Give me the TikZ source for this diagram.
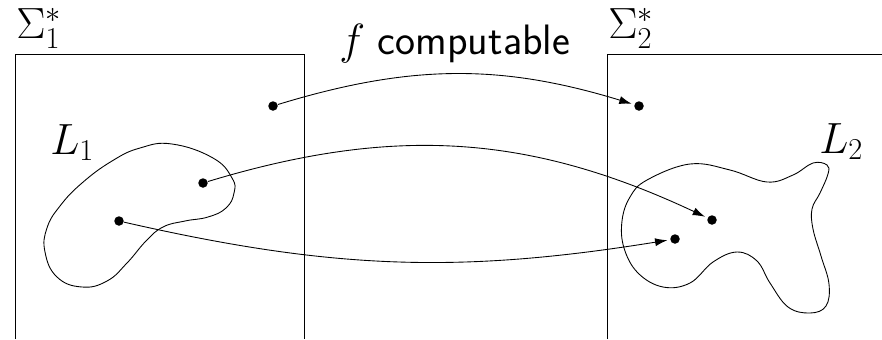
\documentclass[tikz,border=0pt]{standalone}
\usepackage{tikz}
\usetikzlibrary{arrows.meta}
\usepackage{amsmath,amssymb}

\begin{document}
\begin{tikzpicture}[
    x=0.02cm, y=-0.02cm,
    >={Latex[length=7pt,width=4.6pt]},
    font=\fontsize{24.2}{29}\selectfont,
    elem/.style={
        circle, fill=black, inner sep=0pt, minimum size=0.19cm
    },
    label/.style={
        anchor=base west, inner sep=0pt
    },
    border/.style={line width=0.5pt, black},
    blob/.style={line width=0.5pt, black},
    map/.style={line width=0.5pt, black, ->, shorten >=1.5pt},
]
\useasboundingbox (0,0) rectangle (882,339);

% The two sets, open at the bottom
\draw[border] (15,339) -- (15,54) -- (304,54) -- (304,339);
\draw[border] (607,339) -- (607,54) -- (882,54);

\node[label] (sig1) at (16,38) {$\Sigma_1^*$};
\node[label] (sig2) at (608,38) {$\Sigma_2^*$};
\node[label] (fcomp) at (339,54) {$f$ \textsf{computable}};

% Languages
\draw[blob] plot[smooth cycle, tension=0.75] coordinates {
    (172,144) (213,158) (232,178) (234,193) (226,208) (208,217)
    (185,221) (163,227) (146,241) (127,263) (107,281) (82,287)
    (57,277) (45,252) (47,228) (60,206) (82,183) (112,161) (140,148)};
\node[label] (lang1) at (50,154) {$L_1$};

\draw[blob] plot[smooth cycle, tension=0.65] coordinates {
    (647,180) (690,164) (730,170) (767,182) (793,175) (813,163)
    (827,165) (828,174) (820,193) (812,209) (813,229) (821,256)
    (829,284) (826,306) (810,313) (788,307) (770,283) (757,261)
    (737,252) (713,262) (690,283) (663,287) (638,273) (624,248)
    (622,221) (630,197)};
\node[label] (lang2) at (819,153) {$L_2$};

% Elements
\node[elem] (x1) at (273,106) {};
\node[elem] (x2) at (203,183) {};
\node[elem] (x3) at (119,221) {};
\node[elem] (y1) at (639,106) {};
\node[elem] (y2) at (712,220) {};
\node[elem] (y3) at (675,239) {};

% The mapping f
\draw[map] (x1) to[bend left=17] (y1);
\draw[map] (x2) to[bend left=21] (y2);
\draw[map] (x3) to[bend right=11] (y3);

\end{tikzpicture}
\end{document}
